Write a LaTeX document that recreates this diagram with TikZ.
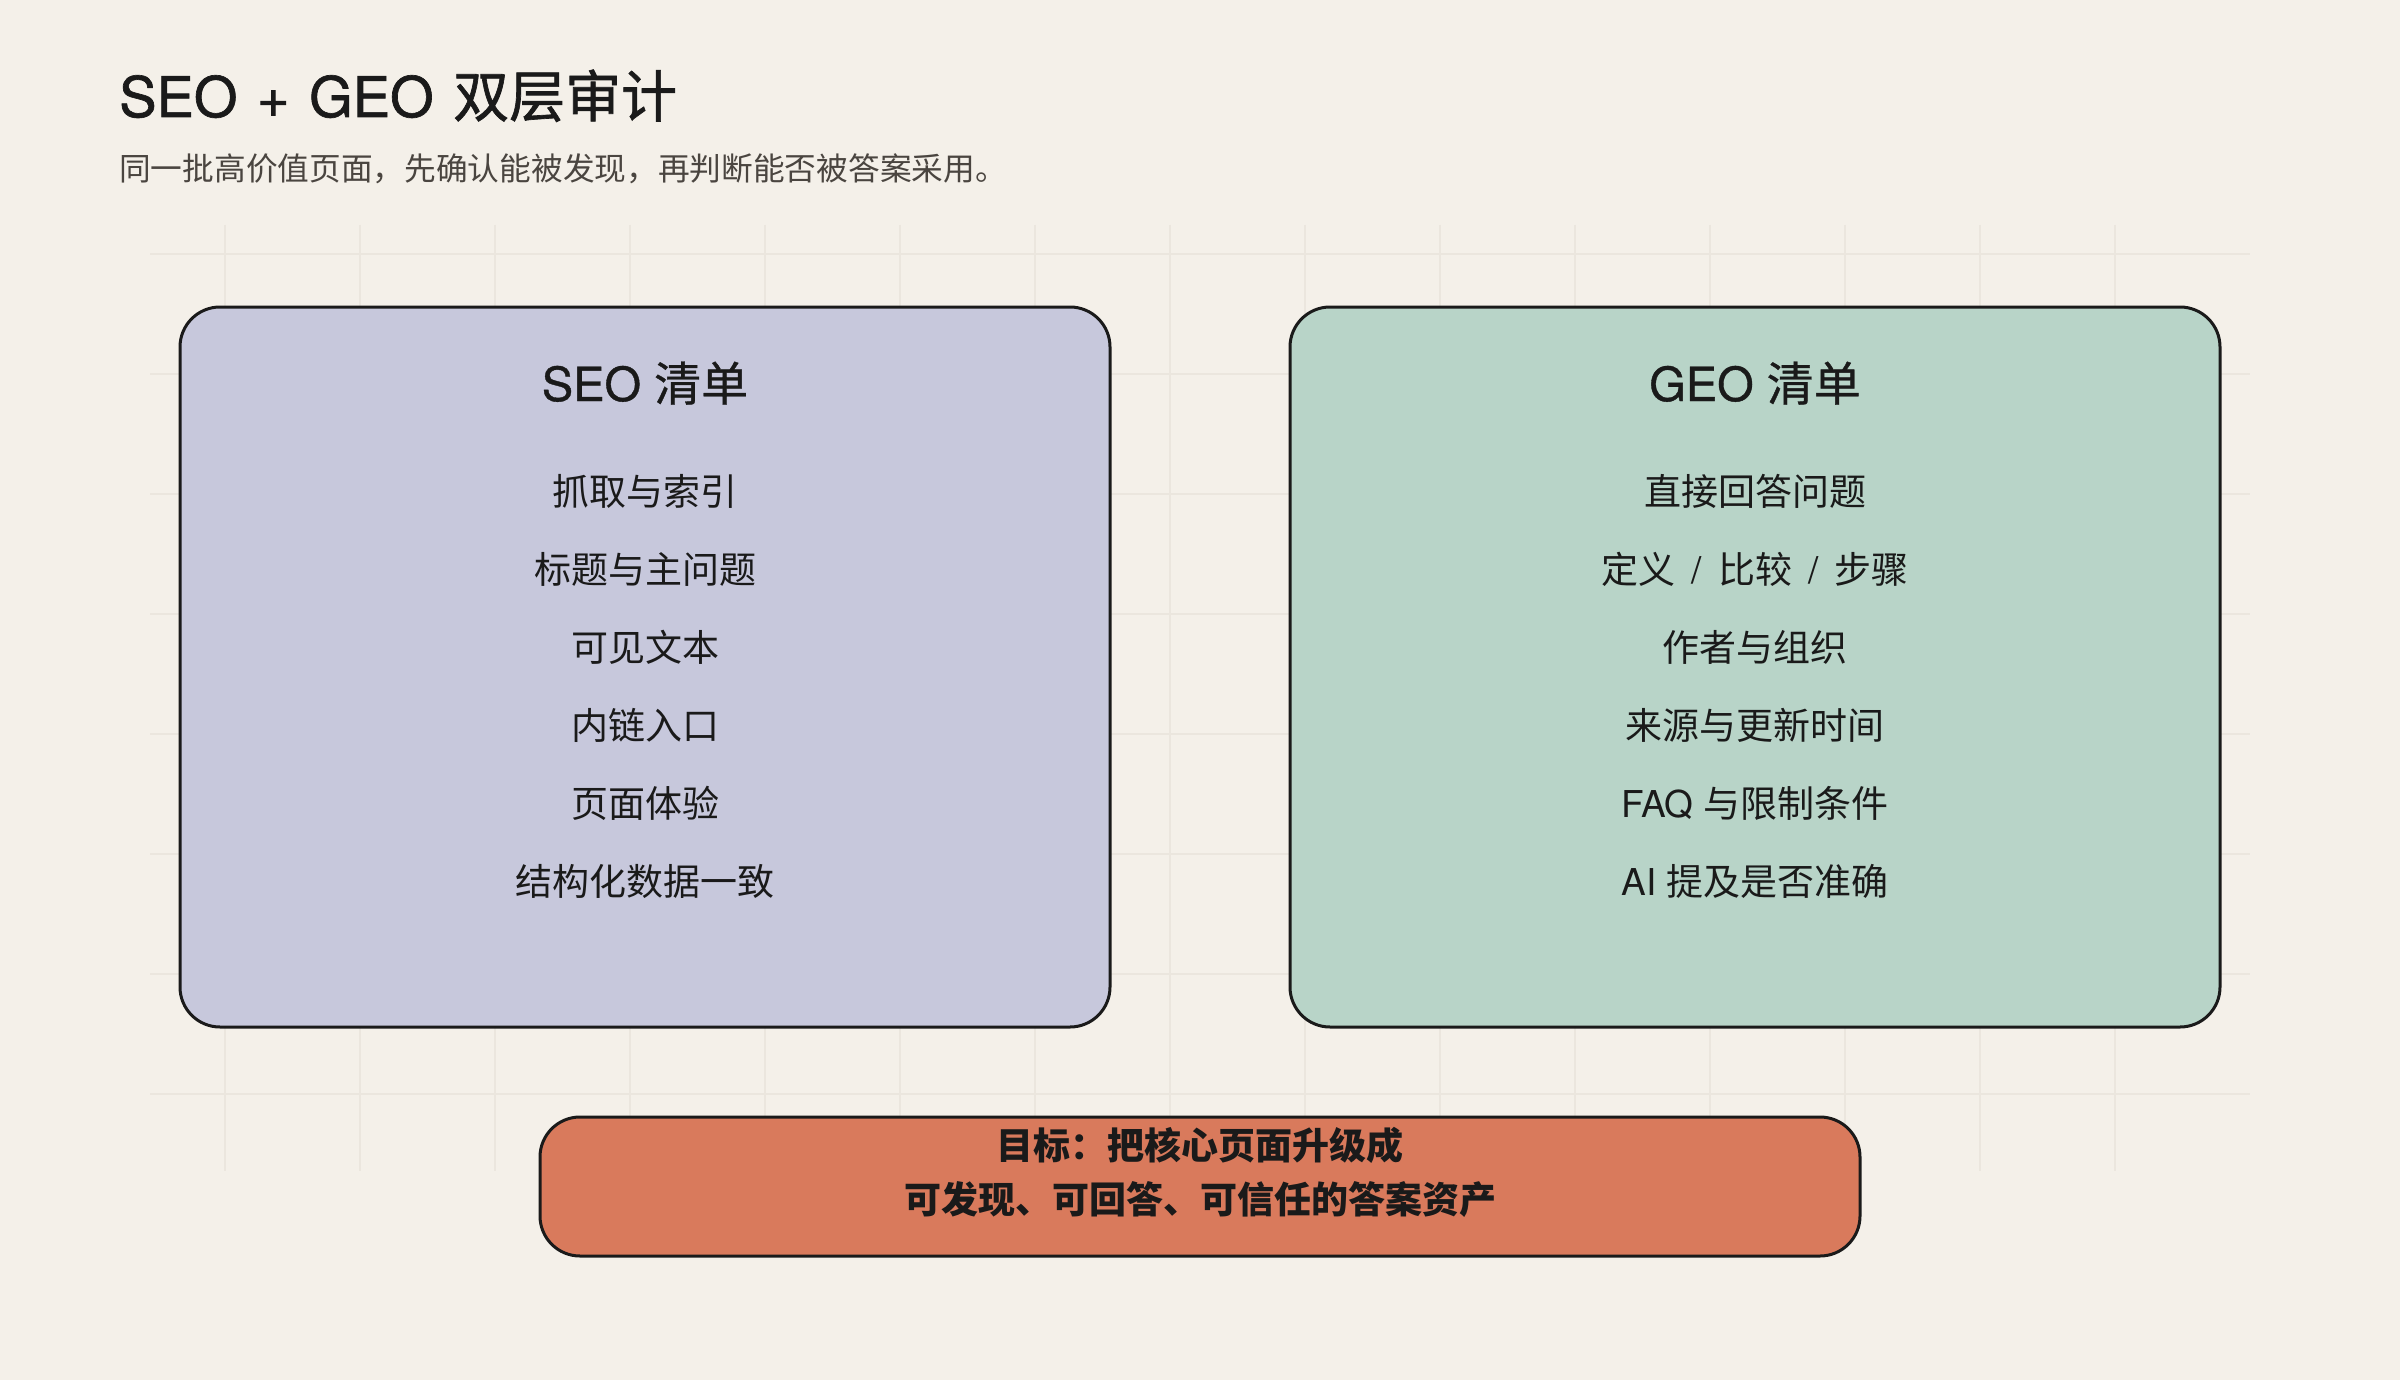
\documentclass[tikz,border=0pt]{standalone}
\usepackage{fontspec}
\setmainfont{Noto Sans CJK SC}
\newfontfamily\heros{TeX Gyre Heros}
\newfontfamily\herosmed[FakeBold=1.2]{TeX Gyre Heros}
\newfontfamily\herossemi[FakeBold=0.8]{TeX Gyre Heros}
\newfontfamily\cjkmed[FakeBold=1.2]{Noto Sans CJK SC}
\newfontfamily\cjksemi[FakeBold=0.8]{Noto Sans CJK SC}
\usetikzlibrary{positioning}
\definecolor{bgc}{HTML}{F4F0E9}
\definecolor{gridc}{HTML}{EBE6DE}
\definecolor{inkc}{HTML}{1A1A1A}
\definecolor{subc}{HTML}{4A4540}
\definecolor{seoc}{HTML}{C7C8DC}
\definecolor{geoc}{HTML}{B8D4C8}
\definecolor{goalc}{HTML}{D97A5C}
\newcommand{\sepslash}{\hspace{16pt}{\heros /}\hspace{16pt}}
\newcommand{\tsp}{\hspace{19.5pt}}
\tikzset{
  panel/.style={draw=inkc, line width=3pt, rounded corners=40pt, inner sep=0pt, outer sep=0pt},
  itemtxt/.style={anchor=base, inner sep=0pt, text=inkc, font=\fontsize{37}{40}\selectfont},
  headtxt/.style={anchor=base, inner sep=0pt, text=inkc, font=\fontsize{47}{50}\selectfont},
  goaltxt/.style={anchor=base, inner sep=0pt, text=inkc, font=\fontsize{37}{40}\selectfont\bfseries},
  gridline/.style={draw=gridc, line width=2pt}
}
\begin{document}
\begin{tikzpicture}[x=1pt,y=-1pt]
\fill[bgc] (0,0) rectangle (2400,1380);
\useasboundingbox (0,0) rectangle (2400,1380);
% grid
\foreach \gx in {225,360,...,2115} \draw[gridline] (\gx,225) -- (\gx,1171);
\foreach \gy in {254,374,...,1094} \draw[gridline] (150,\gy) -- (2250,\gy);
% title
\node[anchor=base west, inner sep=0pt, text=inkc, font=\fontsize{56}{60}\selectfont] (title) at (119,117) {{\herosmed SEO\tsp+\tsp GEO\tsp}{\cjkmed 双层审计}};
\node[anchor=base west, inner sep=0pt, text=subc, font=\fontsize{31.7}{34}\selectfont] (subtitle) at (119,181) {同一批高价值页面，先确认能被发现，再判断能否被答案采用。};
% panels
\node[panel, fill=seoc, minimum width=930pt, minimum height=720pt] (seo) at (645,667) {};
\node[panel, fill=geoc, minimum width=930pt, minimum height=720pt] (geo) at (1755,667) {};
\node[panel, fill=goalc, minimum width=1320pt, minimum height=139pt] (goal) at (1200,1186.5) {};
% SEO
\node[headtxt] (seoh) at (645,401) {{\herossemi SEO }{\cjksemi 清单}};
\node[itemtxt] (s1) at (645,505) {抓取与索引};
\node[itemtxt] (s2) at (645,583) {标题与主问题};
\node[itemtxt] (s3) at (645,661) {可见文本};
\node[itemtxt] (s4) at (645,739) {内链入口};
\node[itemtxt] (s5) at (645,817) {页面体验};
\node[itemtxt] (s6) at (645,895) {结构化数据一致};
% GEO
\node[headtxt] (geoh) at (1755,401) {{\herossemi GEO }{\cjksemi 清单}};
\node[itemtxt] (g1) at (1755,505) {直接回答问题};
\node[itemtxt] (g2) at (1755,583) {定义\sepslash 比较\sepslash 步骤};
\node[itemtxt] (g3) at (1755,661) {作者与组织};
\node[itemtxt] (g4) at (1755,739) {来源与更新时间};
\node[itemtxt] (g5) at (1755,817) {{\heros FAQ }与限制条件};
\node[itemtxt] (g6) at (1755,895) {{\heros AI }提及是否准确};
% goal
\node[goaltxt] (goal1) at (1200,1159) {目标：把核心页面升级成};
\node[goaltxt] (goal2) at (1200,1213) {可发现、可回答、可信任的答案资产};
\end{tikzpicture}
\end{document}
